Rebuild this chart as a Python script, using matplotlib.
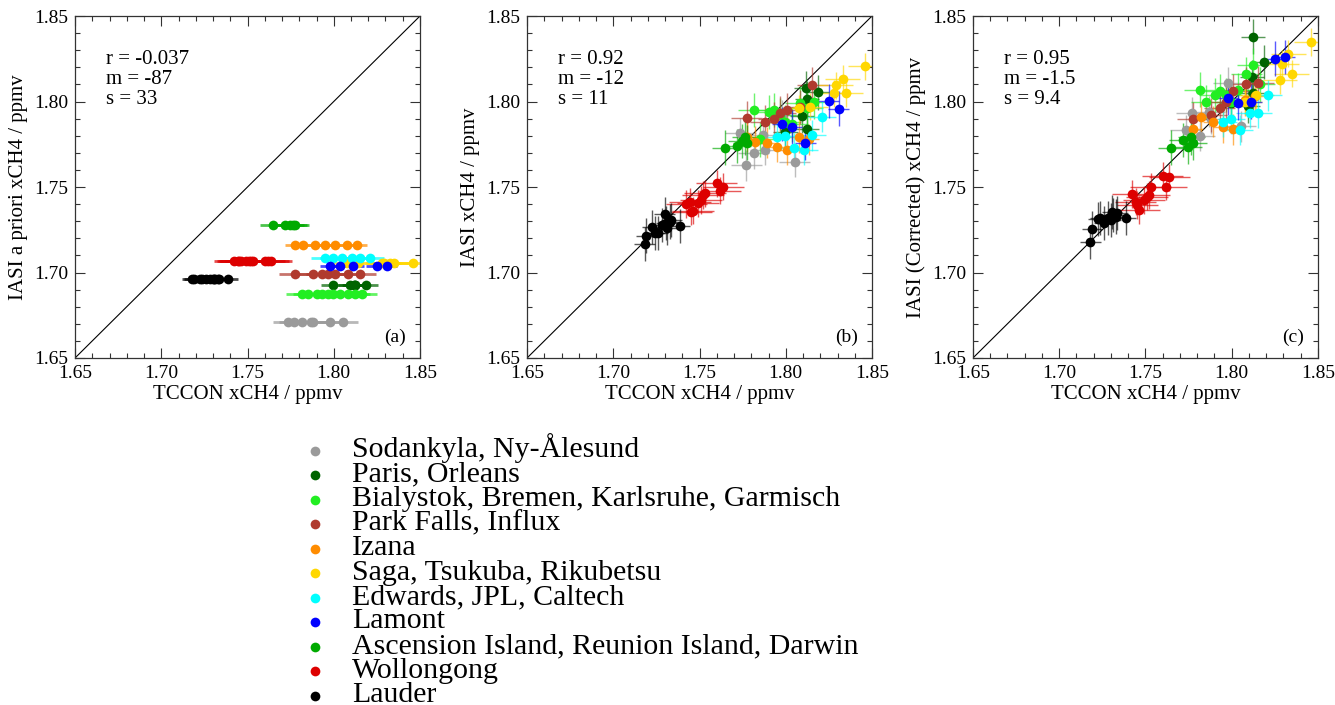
import matplotlib
matplotlib.use('Agg')
import matplotlib.pyplot as plt
from matplotlib.lines import Line2D
from matplotlib.ticker import MultipleLocator

plt.rcParams['font.family'] = ['Liberation Serif', 'DejaVu Serif']

# Station groups, colours, and TCCON / IASI xCH4 values (ppmv)
names = [
    "Sodankyla, Ny-\u00c5lesund",
    "Paris, Orleans",
    "Bialystok, Bremen, Karlsruhe, Garmisch",
    "Park Falls, Influx",
    "Izana",
    "Saga, Tsukuba, Rikubetsu",
    "Edwards, JPL, Caltech",
    "Lamont",
    "Ascension Island, Reunion Island, Darwin",
    "Wollongong",
    "Lauder",
]
colors = ['#9a9a9a', '#006400', '#22ee22', '#b03a2e', '#ff8c00', '#ffd700',
          '#00ffff', '#0000ff', '#00aa00', '#dd0000', '#000000']

tccon = [
    [1.7735, 1.7770, 1.7815, 1.7870, 1.7880, 1.7980, 1.8052],
    [1.7998, 1.8095, 1.8119, 1.8123, 1.8125, 1.8189],
    [1.7814, 1.7853, 1.7901, 1.7930, 1.7969, 1.7998, 1.8036, 1.8085, 1.8123, 1.8162],
    [1.7775, 1.7882, 1.7930, 1.7969, 1.8007, 1.8085, 1.8153],
    [1.7775, 1.7824, 1.7891, 1.7949, 1.8007, 1.8075, 1.8133],
    [1.8075, 1.8143, 1.8280, 1.8290, 1.8329, 1.8348, 1.8461],
    [1.7949, 1.7998, 1.8046, 1.8104, 1.8153, 1.8210],
    [1.7978, 1.8036, 1.8114, 1.8249, 1.8307],
    [1.7650, 1.7717, 1.7746, 1.7766, 1.7775],
    [1.7424, 1.7444, 1.7453, 1.7463, 1.7492, 1.7508, 1.7521, 1.7531, 1.7599, 1.7619, 1.7638],
    [1.7181, 1.7191, 1.7226, 1.7239, 1.7259, 1.7284, 1.7298, 1.7307, 1.7313, 1.7327, 1.7337, 1.7385],
]

# a priori value is constant within each group
prior = [1.6710, 1.6925, 1.6872, 1.6991, 1.7158, 1.7055, 1.7084, 1.7036, 1.7279, 1.7065, 1.6963]

iasi = [
    [1.7813, 1.7628, 1.7696, 1.7803, 1.7716, 1.7920, 1.7648],
    [1.7823, 1.7914, 1.8080, 1.8017, 1.7842, 1.8053],
    [1.7950, 1.7778, 1.7940, 1.7950, 1.7920, 1.7880, 1.7866, 1.7990, 1.7960, 1.7998],
    [1.7901, 1.7881, 1.7900, 1.7930, 1.7950, 1.7969, 1.8099],
    [1.7794, 1.7765, 1.7760, 1.7735, 1.7716, 1.7790, 1.7780],
    [1.7960, 1.7969, 1.8047, 1.8095, 1.8134, 1.8047, 1.8206],
    [1.7794, 1.7800, 1.7726, 1.7716, 1.7803, 1.7911],
    [1.7870, 1.7850, 1.7755, 1.8005, 1.7959],
    [1.7731, 1.7739, 1.7770, 1.7790, 1.7760],
    [1.7401, 1.7414, 1.7356, 1.7362, 1.7405, 1.7424, 1.7453, 1.7463, 1.7521, 1.7479, 1.7502],
    [1.7167, 1.7216, 1.7265, 1.7233, 1.7230, 1.7278, 1.7342, 1.7288, 1.7259, 1.7298, 1.7307, 1.7274],
]

corrected = [
    [1.7833, 1.7934, 1.7800, 1.7940, 1.7900, 1.8109, 1.7856],
    [1.7992, 1.7973, 1.8144, 1.8380, 1.8047, 1.8232],
    [1.8070, 1.7998, 1.8037, 1.8060, 1.8037, 1.7998, 1.8066, 1.8163, 1.8212, 1.8100],
    [1.7900, 1.7920, 1.7960, 1.8000, 1.8060, 1.8100, 1.8110],
    [1.7842, 1.7907, 1.7881, 1.7850, 1.7837, 1.8008, 1.8030],
    [1.8000, 1.8037, 1.8125, 1.8222, 1.8280, 1.8163, 1.8348],
    [1.7880, 1.7900, 1.7833, 1.7934, 1.7934, 1.8037],
    [1.8020, 1.7990, 1.8000, 1.8251, 1.8261],
    [1.7731, 1.7774, 1.7735, 1.7790, 1.7760],
    [1.7459, 1.7414, 1.7395, 1.7366, 1.7424, 1.7444, 1.7453, 1.7502, 1.7564, 1.7502, 1.7556],
    [1.7180, 1.7257, 1.7315, 1.7321, 1.7288, 1.7317, 1.7307, 1.7356, 1.7337, 1.7327, 1.7346, 1.7317],
]

# typical 1-sigma uncertainties per group
xerr = [0.009, 0.007, 0.009, 0.009, 0.006, 0.010, 0.008, 0.006, 0.008, 0.012, 0.006]
yerr = [0.009, 0.010, 0.010, 0.010, 0.009, 0.008, 0.009, 0.010, 0.010, 0.008, 0.010]

stats = [("-0.037", "-87", "33"), ("0.92", "-12", "11"), ("0.95", "-1.5", "9.4")]
ylabels = ["IASI a priori xCH4 / ppmv", "IASI xCH4 / ppmv", "IASI (Corrected) xCH4 / ppmv"]
panel_tags = ["(a)", "(b)", "(c)"]
ticks = [1.65, 1.70, 1.75, 1.80, 1.85]

W, H = 1335, 705
fig = plt.figure(figsize=(W / 100, H / 100), dpi=100)
fig.patch.set_facecolor('white')

lefts = [0.0562, 0.3948, 0.7288]
axes = [fig.add_axes([l, 0.4922, 0.2584, 0.4851]) for l in lefts]

for k, ax in enumerate(axes):
    ax.plot([1.65, 1.85], [1.65, 1.85], color='black', lw=0.8, zorder=1)
    for g in range(len(names)):
        xs = tccon[g]
        if k == 0:
            ys = [prior[g]] * len(xs)
            ax.errorbar(xs, ys, xerr=xerr[g], fmt='none', ecolor=colors[g],
                        elinewidth=2.0, alpha=0.7, zorder=2)
        else:
            ys = iasi[g] if k == 1 else corrected[g]
            ax.errorbar(xs, ys, xerr=xerr[g], yerr=yerr[g], fmt='none',
                        ecolor=colors[g], elinewidth=1.0, alpha=0.65, zorder=2)
        ax.plot(xs, ys, 'o', color=colors[g], ms=7, mec='none', zorder=3)

    ax.set_xlim(1.65, 1.85)
    ax.set_ylim(1.65, 1.85)
    ax.set_xticks(ticks)
    ax.set_yticks(ticks)
    ax.set_xticklabels([f"{t:.2f}" for t in ticks])
    ax.set_yticklabels([f"{t:.2f}" for t in ticks])
    ax.xaxis.set_minor_locator(MultipleLocator(0.01))
    ax.yaxis.set_minor_locator(MultipleLocator(0.01))
    ax.tick_params(which='both', direction='in', top=True, right=True,
                   labelsize=14, color='#333333', width=0.8)
    ax.tick_params(which='major', length=7, pad=5)
    ax.tick_params(which='minor', length=3.5)
    for sp in ax.spines.values():
        sp.set_linewidth(0.9)
        sp.set_color('#333333')
    ax.set_xlabel("TCCON xCH4 / ppmv", fontsize=15, labelpad=2)
    ax.set_ylabel(ylabels[k], fontsize=15, labelpad=4)

    r, m, s = stats[k]
    ax.text(0.09, 0.90, f"r = {r}\nm = {m}\ns = {s}", transform=ax.transAxes,
            fontsize=15, va='top', ha='left', linespacing=1.05)
    ax.text(0.96, 0.035, panel_tags[k], transform=ax.transAxes,
            fontsize=14, ha='right', va='bottom')

# key below the panels: one dot and one name per row, evenly spaced
row0, row_step = 450.5, 24.5
for i, (name, c) in enumerate(zip(names, colors)):
    y_px = row0 + i * row_step
    fig.add_artist(Line2D([315 / W], [1 - y_px / H], transform=fig.transFigure,
                          ls='none', marker='o', color=c, ms=7, mec='none'))
    fig.text(352 / W, 1 - (y_px + 6.5) / H, name, fontsize=21.5,
             ha='left', va='baseline')

plt.savefig('out.png', dpi=100)
plt.close()
